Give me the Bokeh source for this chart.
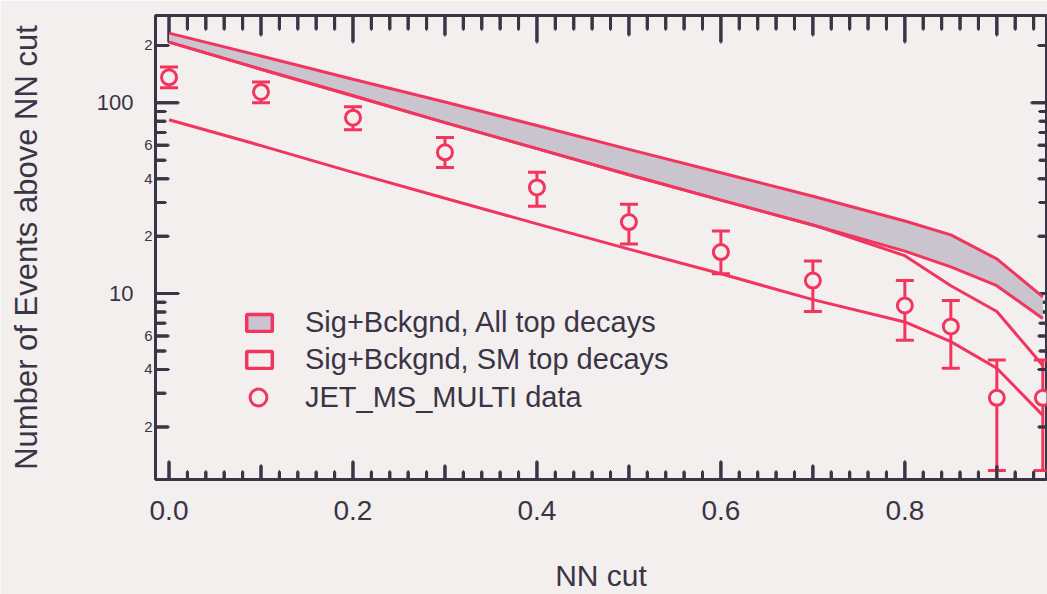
from bokeh.plotting import figure
from bokeh.models import (Range1d, LogAxis, FixedTicker, CustomJSTickFormatter,
                          PrintfTickFormatter, Whisker, TeeHead, ColumnDataSource, Legend, LegendItem)
from bokeh.embed import file_html
from bokeh.resources import INLINE

BG = "#f3efee"
RED = "#f2355f"
GRAY = "#c9c4ce"
INK = "#3a3545"
TICK = (58, 53, 69)
FONT = "Liberation Sans"

# ---- data ----
nn_cut = [0.0, 0.1, 0.2, 0.3, 0.4, 0.5, 0.6, 0.7, 0.8, 0.85, 0.9, 0.95]
all_upper = [232, 176, 133, 101, 76, 57, 43, 32.4, 24.0, 20.3, 15.2, 9.6]
all_lower = [208, 150, 109, 78.7, 57.5, 42.0, 30.9, 22.9, 16.7, 13.8, 11.0, 7.4]
sm_upper = [208, 150, 109, 78.7, 57.5, 42.0, 30.9, 22.9, 15.8, 11.0, 8.05, 4.2]
sm_lower = [81.5, 59.7, 43.2, 31.6, 23.2, 17.1, 12.7, 9.3, 7.1, 5.6, 4.06, 2.3]

data_x = [0.0, 0.1, 0.2, 0.3, 0.4, 0.5, 0.6, 0.7, 0.8, 0.85, 0.9, 0.95]
data_y = [136, 114, 83.6, 55, 36, 23.7, 16.5, 11.7, 8.66, 6.73, 2.84, 2.84]
data_hi = [154, 128.5, 95.3, 65.8, 43.2, 29.4, 21.3, 14.8, 11.7, 9.2, 4.48, 4.48]
data_lo = [120, 100, 72.3, 45.8, 28.7, 18.2, 12.7, 8.06, 5.69, 4.06, 1.18, 1.18]

# axis ticks
X_START, X_END = -0.0147, 0.954
Y_START, Y_END = 1.06, 287
x_ticks = [0.0, 0.2, 0.4, 0.6, 0.8]
x_mid = [0.1, 0.3, 0.5, 0.7, 0.9]
x_minor = [round(0.02 * i, 2) for i in range(0, 48) if i % 5 != 0]
y_labeled = [2, 4, 6, 20, 40, 60, 200]
y_labeled_text = ["2", "4", "6", "2", "4", "6", "2"]
y_decades = [10, 100]
y_minor = [3, 5, 7, 8, 9, 30, 50, 70, 80, 90]

labels = ["Sig+Bckgnd, All top decays", "Sig+Bckgnd, SM top decays", "JET_MS_MULTI data"]

FRAME_W, FRAME_H = 891, 467


def dx(px):
    return px * (X_END - X_START) / FRAME_W


def fy(px):
    return (Y_END / Y_START) ** (px / FRAME_H)


p = figure(width=1047, height=594, x_range=Range1d(X_START, X_END), y_range=Range1d(Y_START, Y_END),
           y_axis_type="log", output_backend="svg", toolbar_location=None,
           min_border_left=155, min_border_right=1, min_border_top=15, min_border_bottom=112,
           background_fill_color=BG, border_fill_color=BG,
           outline_line_color=INK, outline_line_width=3)
p.grid.visible = False

# ---- tick positions and lengths (px) for the four frame edges ----
bx, bl = [], []
for vals, ln in ((x_ticks, 18), (x_mid, 14), (x_minor, 8)):
    bx += vals
    bl += [ln] * len(vals)
tx, tl = [], []
for vals, ln in ((x_ticks, 27), (x_mid, 20), (x_minor, 14)):
    tx += vals
    tl += [ln] * len(vals)
ly, ll = [], []
for vals, ln in ((y_decades, 23), (y_labeled, 13), (y_minor, 10)):
    ly += vals
    ll += [ln] * len(vals)
ry, rl = [], []
for vals, ln in ((y_decades, 15), (y_labeled, 8), (y_minor, 7)):
    ry += vals
    rl += [ln] * len(vals)

# inward tick marks as thin filled bars
HW = 1.5
p.quad(left=[v - dx(HW) for v in bx], right=[v + dx(HW) for v in bx],
       bottom=[Y_START] * len(bx), top=[Y_START * fy(n) for n in bl],
       fill_color=TICK, fill_alpha=1.0, line_color=None)
p.quad(left=[v - dx(HW) for v in tx], right=[v + dx(HW) for v in tx],
       bottom=[Y_END / fy(n) for n in tl], top=[Y_END] * len(tx),
       fill_color=TICK, fill_alpha=1.0, line_color=None)
p.quad(left=[X_START] * len(ly), right=[X_START + dx(n) for n in ll],
       bottom=[v / fy(HW) for v in ly], top=[v * fy(HW) for v in ly],
       fill_color=TICK, fill_alpha=1.0, line_color=None)
p.quad(left=[X_END - dx(n) for n in rl], right=[X_END] * len(ry),
       bottom=[v / fy(HW) for v in ry], top=[v * fy(HW) for v in ry],
       fill_color=TICK, fill_alpha=1.0, line_color=None)

# the same tick marks as whisker annotations with tee heads of zero size
def tick_whiskers(base, lo, hi, dim):
    s = ColumnDataSource(dict(b=base, lo=lo, hi=hi))
    p.add_layout(Whisker(base="b", lower="lo", upper="hi", dimension=dim, source=s,
                         line_color=TICK, line_width=3,
                         upper_head=TeeHead(size=1, line_color=TICK, line_width=3),
                         lower_head=TeeHead(size=1, line_color=TICK, line_width=3)))

tick_whiskers(bx, [Y_START] * len(bx), [Y_START * fy(n) for n in bl], "height")
tick_whiskers(tx, [Y_END / fy(n) for n in tl], [Y_END] * len(tx), "height")
tick_whiskers(ly, [X_START] * len(ly), [X_START + dx(n) for n in ll], "width")
tick_whiskers(ry, [X_END - dx(n) for n in rl], [X_END] * len(ry), "width")

# bands
p.varea(x=nn_cut, y1=all_lower, y2=all_upper, fill_color=GRAY)
for ys in (all_upper, all_lower, sm_upper, sm_lower):
    p.line(nn_cut, ys, line_color=RED, line_width=3)

# data with error bars
src = ColumnDataSource(dict(x=data_x, y=data_y, lo=data_lo, hi=data_hi))
wh = Whisker(base="x", lower="lo", upper="hi", dimension="height", source=src,
             line_color=RED, line_width=3,
             upper_head=TeeHead(size=18, line_color=RED, line_width=3),
             lower_head=TeeHead(size=18, line_color=RED, line_width=3))
p.add_layout(wh)
pts = p.scatter("x", "y", source=src, marker="circle", size=15, fill_color=BG,
                line_color=RED, line_width=3)

# legend proxies (no visible data)
nan = float("nan")
leg_all = p.patch(x=[nan], y=[nan], fill_color=GRAY, line_color=RED, line_width=3.5)
leg_sm = p.patch(x=[nan], y=[nan], fill_color=BG, line_color=RED, line_width=3.5)

# x axis (labels only)
xa = p.xaxis[0]
xa.ticker = FixedTicker(ticks=x_ticks, minor_ticks=[])
xa.formatter = PrintfTickFormatter(format="%.1f")
xa.major_tick_in = 0
xa.major_tick_out = 0
xa.minor_tick_in = 0
xa.minor_tick_out = 0
xa.axis_line_color = None
xa.major_tick_line_color = None
xa.minor_tick_line_color = None
xa.major_label_standoff = 21
xa.major_label_text_font = FONT
xa.major_label_text_font_size = "28px"
xa.major_label_text_color = INK
xa.axis_label = "NN cut"
xa.axis_label_text_font = FONT
xa.axis_label_text_font_size = "30px"
xa.axis_label_text_font_style = "normal"
xa.axis_label_text_color = INK
xa.axis_label_standoff = 36

# y axis: small mantissa labels next to the frame
ya = p.yaxis[0]
ya.ticker = FixedTicker(ticks=y_labeled, minor_ticks=[])
ya.formatter = CustomJSTickFormatter(args=dict(tvals=y_labeled, tlabels=y_labeled_text), code="""
const i = tvals.findIndex(t => Math.abs(t - tick) < 1e-6 * t);
return i >= 0 ? tlabels[i] : '';
""")
ya.major_tick_in = 0
ya.major_tick_out = 0
ya.minor_tick_in = 0
ya.minor_tick_out = 0
ya.axis_line_color = None
ya.major_tick_line_color = None
ya.minor_tick_line_color = None
ya.major_label_standoff = 3
ya.major_label_text_font = FONT
ya.major_label_text_font_size = "15px"
ya.major_label_text_color = INK

# y axis: decade labels further out, plus the axis title
ya2 = LogAxis(ticker=FixedTicker(ticks=y_decades, minor_ticks=[]),
              formatter=PrintfTickFormatter(format="%d"),
              axis_line_color=None, major_tick_line_color=None, minor_tick_line_color=None,
              major_tick_in=0, major_tick_out=0, minor_tick_in=0, minor_tick_out=0,
              major_label_standoff=8, major_label_text_font=FONT,
              major_label_text_font_size="22px", major_label_text_color=INK,
              axis_label="Number of Events above NN cut", axis_label_text_font=FONT,
              axis_label_text_font_size="31px", axis_label_text_font_style="normal",
              axis_label_text_color=INK, axis_label_standoff=50)
p.add_layout(ya2, "left")

common = dict(padding=0, margin=0, background_fill_alpha=0, border_line_alpha=0,
              label_text_font=FONT, label_text_font_size="29px", label_text_color=INK)
legend1 = Legend(items=[LegendItem(label=labels[0], renderers=[leg_all]),
                        LegendItem(label=labels[1], renderers=[leg_sm])],
                 location=(88, 103), glyph_width=32, glyph_height=21, label_standoff=30,
                 spacing=4, **common)
legend2 = Legend(items=[LegendItem(label=labels[2], renderers=[pts])],
                 location=(82, 61), glyph_width=42, glyph_height=42, label_standoff=26,
                 **common)
p.add_layout(legend1)
p.add_layout(legend2)

open("out.html", "w").write(file_html(p, INLINE))
